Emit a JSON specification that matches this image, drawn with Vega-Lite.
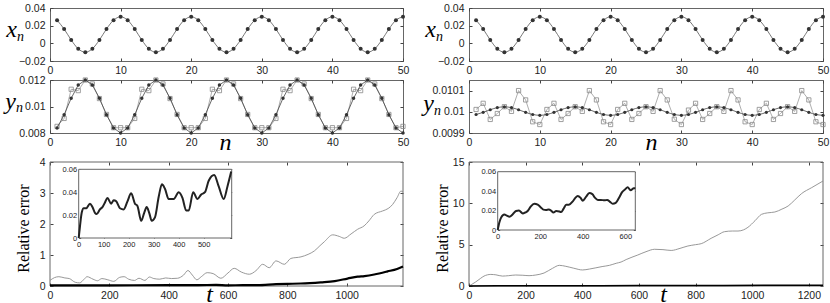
{
"$schema": "https://vega.github.io/schema/vega-lite/v6.json",
"padding": {"left": 4, "top": 2, "right": 0, "bottom": 0},
"bounds": "flush",
"align": "each",
"columns": 2,
"spacing": {"row": 19, "column": 66},
"datasets": {
"xs": [
{"n":1,"v":0.0262},{"n":2,"v":0.0162},{"n":3,"v":0.0038},{"n":4,"v":-0.0062},{"n":5,"v":-0.01},{"n":6,"v":-0.0062},{"n":7,"v":0.0038},{"n":8,"v":0.0162},{"n":9,"v":0.0262},{"n":10,"v":0.03},
{"n":11,"v":0.0262},{"n":12,"v":0.0162},{"n":13,"v":0.0038},{"n":14,"v":-0.0062},{"n":15,"v":-0.01},{"n":16,"v":-0.0062},{"n":17,"v":0.0038},{"n":18,"v":0.0162},{"n":19,"v":0.0262},{"n":20,"v":0.03},
{"n":21,"v":0.0262},{"n":22,"v":0.0162},{"n":23,"v":0.0038},{"n":24,"v":-0.0062},{"n":25,"v":-0.01},{"n":26,"v":-0.0062},{"n":27,"v":0.0038},{"n":28,"v":0.0162},{"n":29,"v":0.0262},{"n":30,"v":0.03},
{"n":31,"v":0.0262},{"n":32,"v":0.0162},{"n":33,"v":0.0038},{"n":34,"v":-0.0062},{"n":35,"v":-0.01},{"n":36,"v":-0.0062},{"n":37,"v":0.0038},{"n":38,"v":0.0162},{"n":39,"v":0.0262},{"n":40,"v":0.03},
{"n":41,"v":0.0262},{"n":42,"v":0.0162},{"n":43,"v":0.0038},{"n":44,"v":-0.0062},{"n":45,"v":-0.01},{"n":46,"v":-0.0062},{"n":47,"v":0.0038},{"n":48,"v":0.0162},{"n":49,"v":0.0262},{"n":50,"v":0.03}
],
"yl": [
{"n":1,"d":0.00838,"s":0.0085},{"n":2,"d":0.00938,"s":0.0091},{"n":3,"d":0.01062,"s":0.0113},{"n":4,"d":0.01162,"s":0.0112},{"n":5,"d":0.012,"s":0.012},{"n":6,"d":0.01162,"s":0.0117},{"n":7,"d":0.01062,"s":0.0106},{"n":8,"d":0.00938,"s":0.0094},{"n":9,"d":0.00838,"s":0.0084},{"n":10,"d":0.008,"s":0.0084},
{"n":11,"d":0.00838,"s":0.0084},{"n":12,"d":0.00938,"s":0.0091},{"n":13,"d":0.01062,"s":0.0113},{"n":14,"d":0.01162,"s":0.0112},{"n":15,"d":0.012,"s":0.012},{"n":16,"d":0.01162,"s":0.0117},{"n":17,"d":0.01062,"s":0.0106},{"n":18,"d":0.00938,"s":0.0094},{"n":19,"d":0.00838,"s":0.0084},{"n":20,"d":0.008,"s":0.0084},
{"n":21,"d":0.00838,"s":0.0084},{"n":22,"d":0.00938,"s":0.0091},{"n":23,"d":0.01062,"s":0.0113},{"n":24,"d":0.01162,"s":0.0112},{"n":25,"d":0.012,"s":0.012},{"n":26,"d":0.01162,"s":0.0117},{"n":27,"d":0.01062,"s":0.0106},{"n":28,"d":0.00938,"s":0.0094},{"n":29,"d":0.00838,"s":0.0084},{"n":30,"d":0.008,"s":0.0084},
{"n":31,"d":0.00838,"s":0.0084},{"n":32,"d":0.00938,"s":0.0091},{"n":33,"d":0.01062,"s":0.0113},{"n":34,"d":0.01162,"s":0.0112},{"n":35,"d":0.012,"s":0.012},{"n":36,"d":0.01162,"s":0.0117},{"n":37,"d":0.01062,"s":0.0106},{"n":38,"d":0.00938,"s":0.0094},{"n":39,"d":0.00838,"s":0.0084},{"n":40,"d":0.008,"s":0.0084},
{"n":41,"d":0.00838,"s":0.0084},{"n":42,"d":0.00938,"s":0.0091},{"n":43,"d":0.01062,"s":0.0113},{"n":44,"d":0.01162,"s":0.0112},{"n":45,"d":0.012,"s":0.012},{"n":46,"d":0.01162,"s":0.0117},{"n":47,"d":0.01062,"s":0.0106},{"n":48,"d":0.00938,"s":0.0094},{"n":49,"d":0.00838,"s":0.0084},{"n":50,"d":0.008,"s":0.0085}
],
"yr": [
{"n":1,"d":0.0099873,"s":0.010011},{"n":2,"d":0.0099973,"s":0.01004},{"n":3,"d":0.0100097,"s":0.009964},{"n":4,"d":0.0100197,"s":0.009992},{"n":5,"d":0.0100235,"s":0.010024},{"n":6,"d":0.0100197,"s":0.010002},{"n":7,"d":0.0100097,"s":0.0101},{"n":8,"d":0.0099973,"s":0.010056},{"n":9,"d":0.0099873,"s":0.009953},{"n":10,"d":0.0099835,"s":0.00994},
{"n":11,"d":0.0099873,"s":0.010011},{"n":12,"d":0.0099973,"s":0.01004},{"n":13,"d":0.0100097,"s":0.009964},{"n":14,"d":0.0100197,"s":0.009992},{"n":15,"d":0.0100235,"s":0.010024},{"n":16,"d":0.0100197,"s":0.010002},{"n":17,"d":0.0100097,"s":0.0101},{"n":18,"d":0.0099973,"s":0.010056},{"n":19,"d":0.0099873,"s":0.009953},{"n":20,"d":0.0099835,"s":0.00994},
{"n":21,"d":0.0099873,"s":0.010011},{"n":22,"d":0.0099973,"s":0.01004},{"n":23,"d":0.0100097,"s":0.009964},{"n":24,"d":0.0100197,"s":0.009992},{"n":25,"d":0.0100235,"s":0.010024},{"n":26,"d":0.0100197,"s":0.010002},{"n":27,"d":0.0100097,"s":0.0101},{"n":28,"d":0.0099973,"s":0.010056},{"n":29,"d":0.0099873,"s":0.009965},{"n":30,"d":0.0099835,"s":0.00994},
{"n":31,"d":0.0099873,"s":0.010008},{"n":32,"d":0.0099973,"s":0.01004},{"n":33,"d":0.0100097,"s":0.009964},{"n":34,"d":0.0100197,"s":0.009992},{"n":35,"d":0.0100235,"s":0.010024},{"n":36,"d":0.0100197,"s":0.010002},{"n":37,"d":0.0100097,"s":0.0101},{"n":38,"d":0.0099973,"s":0.010056},{"n":39,"d":0.0099873,"s":0.009953},{"n":40,"d":0.0099835,"s":0.00994},
{"n":41,"d":0.0099873,"s":0.010011},{"n":42,"d":0.0099973,"s":0.01004},{"n":43,"d":0.0100097,"s":0.009964},{"n":44,"d":0.0100197,"s":0.009992},{"n":45,"d":0.0100235,"s":0.010024},{"n":46,"d":0.0100197,"s":0.010002},{"n":47,"d":0.0100097,"s":0.0101},{"n":48,"d":0.0099973,"s":0.010056},{"n":49,"d":0.0099873,"s":0.009953},{"n":50,"d":0.0099835,"s":0.00994}
],
"gl": [
{"t":0,"v":0.18},{"t":15,"v":0.27},{"t":30,"v":0.3},{"t":50,"v":0.26},{"t":65,"v":0.24},{"t":85,"v":0.12},{"t":100,"v":0.1},{"t":115,"v":0.22},{"t":125,"v":0.3},{"t":145,"v":0.22},{"t":160,"v":0.17},{"t":175,"v":0.24},{"t":195,"v":0.2},{"t":215,"v":0.15},{"t":235,"v":0.28},{"t":250,"v":0.3},{"t":265,"v":0.22},{"t":285,"v":0.18},{"t":300,"v":0.25},{"t":320,"v":0.18},{"t":335,"v":0.29},{"t":350,"v":0.24},{"t":370,"v":0.22},{"t":390,"v":0.26},{"t":410,"v":0.24},{"t":430,"v":0.25},{"t":450,"v":0.35},{"t":465,"v":0.5},{"t":480,"v":0.35},{"t":495,"v":0.2},{"t":510,"v":0.3},{"t":530,"v":0.43},{"t":550,"v":0.4},{"t":576,"v":0.25},{"t":600,"v":0.42},{"t":621,"v":0.57},{"t":645,"v":0.45},{"t":672,"v":0.38},{"t":695,"v":0.5},{"t":717,"v":0.7},{"t":739,"v":0.59},{"t":762,"v":0.81},{"t":790,"v":0.7},{"t":812,"v":0.89},{"t":846,"v":0.94},{"t":870,"v":1.02},{"t":891,"v":1.13},{"t":910,"v":1.3},{"t":925,"v":1.43},{"t":953,"v":1.65},{"t":975,"v":1.6},{"t":992,"v":1.54},{"t":1015,"v":1.68},{"t":1037,"v":1.83},{"t":1059,"v":1.94},{"t":1075,"v":2.1},{"t":1093,"v":2.31},{"t":1121,"v":2.42},{"t":1140,"v":2.5},{"t":1155,"v":2.63},{"t":1170,"v":2.85},{"t":1183,"v":3.06},{"t":1190,"v":3.05}
],
"bl": [
{"t":0,"v":0.02},{"t":200,"v":0.02},{"t":400,"v":0.03},{"t":500,"v":0.03},{"t":560,"v":0.035},{"t":600,"v":0.02},{"t":650,"v":0.03},{"t":700,"v":0.03},{"t":762,"v":0.06},{"t":800,"v":0.07},{"t":846,"v":0.08},{"t":913,"v":0.12},{"t":960,"v":0.16},{"t":1003,"v":0.24},{"t":1037,"v":0.3},{"t":1060,"v":0.32},{"t":1093,"v":0.37},{"t":1138,"v":0.47},{"t":1170,"v":0.55},{"t":1190,"v":0.63}
],
"il": [
{"t":0,"v":0},{"t":5,"v":0.01},{"t":12,"v":0.022},{"t":20,"v":0.026},{"t":30,"v":0.026},{"t":45,"v":0.03},{"t":55,"v":0.027},{"t":65,"v":0.022},{"t":72,"v":0.021},{"t":85,"v":0.025},{"t":95,"v":0.027},{"t":105,"v":0.031},{"t":115,"v":0.035},{"t":130,"v":0.03},{"t":140,"v":0.033},{"t":150,"v":0.032},{"t":165,"v":0.026},{"t":180,"v":0.025},{"t":195,"v":0.032},{"t":210,"v":0.039},{"t":225,"v":0.03},{"t":235,"v":0.028},{"t":250,"v":0.015},{"t":262,"v":0.022},{"t":272,"v":0.027},{"t":282,"v":0.022},{"t":292,"v":0.015},{"t":305,"v":0.018},{"t":320,"v":0.036},{"t":333,"v":0.047},{"t":345,"v":0.043},{"t":360,"v":0.034},{"t":380,"v":0.034},{"t":400,"v":0.04},{"t":415,"v":0.035},{"t":430,"v":0.024},{"t":440,"v":0.024},{"t":458,"v":0.04},{"t":475,"v":0.034},{"t":490,"v":0.038},{"t":505,"v":0.04},{"t":520,"v":0.05},{"t":542,"v":0.055},{"t":560,"v":0.045},{"t":580,"v":0.034},{"t":595,"v":0.045},{"t":610,"v":0.058}
],
"gr": [
{"t":0,"v":0},{"t":10,"v":0.2},{"t":24,"v":0.5},{"t":40,"v":0.9},{"t":53,"v":1.2},{"t":77,"v":1.4},{"t":95,"v":1.35},{"t":118,"v":1.2},{"t":140,"v":1.25},{"t":165,"v":1.33},{"t":190,"v":1.3},{"t":212,"v":1.25},{"t":236,"v":1.33},{"t":265,"v":1.57},{"t":295,"v":2.14},{"t":319,"v":2.5},{"t":342,"v":2.38},{"t":370,"v":2.15},{"t":401,"v":1.94},{"t":425,"v":2.05},{"t":448,"v":2.2},{"t":470,"v":2.35},{"t":496,"v":2.5},{"t":520,"v":2.75},{"t":537,"v":2.9},{"t":555,"v":3.2},{"t":596,"v":3.75},{"t":625,"v":4.15},{"t":655,"v":4.44},{"t":685,"v":4.4},{"t":714,"v":4.3},{"t":745,"v":4.55},{"t":773,"v":4.84},{"t":800,"v":5.0},{"t":820,"v":5.12},{"t":855,"v":5.77},{"t":880,"v":6.2},{"t":902,"v":6.57},{"t":930,"v":6.65},{"t":950,"v":6.65},{"t":970,"v":6.8},{"t":985,"v":7.1},{"t":1010,"v":7.9},{"t":1033,"v":8.67},{"t":1055,"v":8.85},{"t":1080,"v":8.95},{"t":1105,"v":9.3},{"t":1127,"v":9.68},{"t":1150,"v":10.4},{"t":1174,"v":11.17},{"t":1210,"v":11.9},{"t":1250,"v":12.7}
],
"br": [
{"t":0,"v":0},{"t":100,"v":0.03},{"t":300,"v":0.04},{"t":600,"v":0.05},{"t":900,"v":0.07},{"t":1250,"v":0.1}
],
"ir": [
{"t":0,"v":0},{"t":8,"v":0.008},{"t":16,"v":0.0127},{"t":31,"v":0.016},{"t":45,"v":0.0145},{"t":55,"v":0.0137},{"t":70,"v":0.016},{"t":86,"v":0.0195},{"t":100,"v":0.02},{"t":118,"v":0.017},{"t":130,"v":0.018},{"t":141,"v":0.0195},{"t":155,"v":0.024},{"t":172,"v":0.027},{"t":188,"v":0.026},{"t":204,"v":0.023},{"t":215,"v":0.021},{"t":227,"v":0.0206},{"t":240,"v":0.021},{"t":251,"v":0.02},{"t":262,"v":0.018},{"t":275,"v":0.0195},{"t":290,"v":0.019},{"t":298,"v":0.0185},{"t":310,"v":0.022},{"t":322,"v":0.026},{"t":335,"v":0.026},{"t":353,"v":0.0295},{"t":365,"v":0.033},{"t":376,"v":0.035},{"t":390,"v":0.033},{"t":400,"v":0.03},{"t":415,"v":0.034},{"t":431,"v":0.038},{"t":445,"v":0.037},{"t":458,"v":0.033},{"t":471,"v":0.031},{"t":485,"v":0.031},{"t":502,"v":0.0305},{"t":515,"v":0.031},{"t":528,"v":0.029},{"t":541,"v":0.027},{"t":555,"v":0.028},{"t":570,"v":0.033},{"t":585,"v":0.039},{"t":600,"v":0.042},{"t":611,"v":0.044},{"t":625,"v":0.041},{"t":640,"v":0.043},{"t":647,"v":0.043}
]
},
"concat": [
{
"width": 353, "height": 53,
"data": {"name": "xs"},
"resolve": {"axis": {"x": "independent", "y": "independent"}},
"layer": [
{"mark": {"type": "line", "color": "#555", "strokeWidth": 0.8, "interpolate": "monotone"},
 "encoding": {
  "x": {"field": "n", "type": "quantitative", "scale": {"domain": [0, 50], "nice": false}, "axis": {"orient": "bottom", "values": [0,10,20,30,40,50], "format": "d", "title": null}},
  "y": {"field": "v", "type": "quantitative", "scale": {"domain": [-0.02, 0.04], "nice": false, "zero": false}, "axis": {"orient": "left", "values": [-0.02,0,0.02,0.04], "format": "~g", "title": "x", "titleAngle": 0, "titleX": -39, "titleY": 28}}
 }},
{"mark": {"type": "point", "filled": true, "color": "#333", "size": 16, "opacity": 1},
 "encoding": {
  "x": {"field": "n", "type": "quantitative", "axis": {"orient": "top", "values": [0,10,20,30,40,50], "labels": false, "title": "n", "titleAngle": 0, "titleFontSize": 14, "titleX": -30, "titleY": 32}},
  "y": {"field": "v", "type": "quantitative", "axis": {"orient": "right", "values": [-0.02,0,0.02,0.04], "labels": false, "title": null}}
 }}
]
},
{
"width": 354, "height": 53,
"data": {"name": "xs"},
"resolve": {"axis": {"x": "independent", "y": "independent"}},
"layer": [
{"mark": {"type": "line", "color": "#555", "strokeWidth": 0.8, "interpolate": "monotone"},
 "encoding": {
  "x": {"field": "n", "type": "quantitative", "scale": {"domain": [0, 50], "nice": false}, "axis": {"orient": "bottom", "values": [0,10,20,30,40,50], "format": "d", "title": null}},
  "y": {"field": "v", "type": "quantitative", "scale": {"domain": [-0.02, 0.04], "nice": false, "zero": false}, "axis": {"orient": "left", "values": [-0.02,0,0.02,0.04], "format": "~g", "title": "x", "titleAngle": 0, "titleX": -39, "titleY": 28}}
 }},
{"mark": {"type": "point", "filled": true, "color": "#333", "size": 16, "opacity": 1},
 "encoding": {
  "x": {"field": "n", "type": "quantitative", "axis": {"orient": "top", "values": [0,10,20,30,40,50], "labels": false, "title": "n", "titleAngle": 0, "titleFontSize": 14, "titleX": -30, "titleY": 32}},
  "y": {"field": "v", "type": "quantitative", "axis": {"orient": "right", "values": [-0.02,0,0.02,0.04], "labels": false, "title": null}}
 }}
]
},
{
"width": 353, "height": 53,
"data": {"name": "yl"},
"resolve": {"axis": {"x": "independent", "y": "independent"}},
"layer": [
{"mark": {"type": "line", "color": "#999", "strokeWidth": 0.8},
 "encoding": {
  "x": {"field": "n", "type": "quantitative", "scale": {"domain": [0, 50], "nice": false}, "axis": {"orient": "bottom", "values": [0,10,20,30,40,50], "format": "d", "title": "n", "titleAngle": 0, "titleFontSize": 24, "titleX": 175, "titleY": 16}},
  "y": {"field": "s", "type": "quantitative", "scale": {"domain": [0.008, 0.012], "nice": false, "zero": false}, "axis": {"orient": "left", "values": [0.008,0.01,0.012], "format": "~g", "title": "y", "titleAngle": 0, "titleX": -40, "titleY": 28}}
 }},
{"mark": {"type": "point", "shape": "square", "filled": false, "color": "#888", "size": 18, "strokeWidth": 0.8, "opacity": 1},
 "encoding": {
  "x": {"field": "n", "type": "quantitative", "axis": {"orient": "top", "values": [0,10,20,30,40,50], "labels": false, "title": "n", "titleAngle": 0, "titleFontSize": 14, "titleX": -31, "titleY": 31}},
  "y": {"field": "s", "type": "quantitative", "axis": {"orient": "right", "values": [0.008,0.01,0.012], "labels": false, "title": null}}
 }},
{"mark": {"type": "line", "color": "#444", "strokeWidth": 0.8},
 "encoding": {
  "x": {"field": "n", "type": "quantitative", "axis": null},
  "y": {"field": "d", "type": "quantitative", "axis": null}
 }},
{"mark": {"type": "point", "filled": true, "color": "#333", "size": 12, "opacity": 1},
 "encoding": {
  "x": {"field": "n", "type": "quantitative", "axis": null},
  "y": {"field": "d", "type": "quantitative", "axis": null}
 }}
]
},
{
"width": 354, "height": 53,
"data": {"name": "yr"},
"resolve": {"axis": {"x": "independent", "y": "independent"}},
"layer": [
{"mark": {"type": "line", "color": "#999", "strokeWidth": 0.8},
 "encoding": {
  "x": {"field": "n", "type": "quantitative", "scale": {"domain": [0, 50], "nice": false}, "axis": {"orient": "bottom", "values": [0,10,20,30,40,50], "format": "d", "title": "n", "titleAngle": 0, "titleFontSize": 24, "titleX": 182, "titleY": 16}},
  "y": {"field": "s", "type": "quantitative", "scale": {"domain": [0.0099, 0.01015], "nice": false, "zero": false}, "axis": {"orient": "left", "values": [0.0099,0.01,0.0101], "format": "~g", "title": "y", "titleAngle": 0, "titleX": -41, "titleY": 30}}
 }},
{"mark": {"type": "point", "shape": "square", "filled": false, "color": "#888", "size": 18, "strokeWidth": 0.8, "opacity": 1},
 "encoding": {
  "x": {"field": "n", "type": "quantitative", "axis": {"orient": "top", "values": [0,10,20,30,40,50], "labels": false, "title": "n", "titleAngle": 0, "titleFontSize": 14, "titleX": -32, "titleY": 34}},
  "y": {"field": "s", "type": "quantitative", "axis": {"orient": "right", "values": [0.0099,0.01,0.0101], "labels": false, "title": null}}
 }},
{"mark": {"type": "line", "color": "#444", "strokeWidth": 0.8, "interpolate": "monotone"},
 "encoding": {
  "x": {"field": "n", "type": "quantitative", "axis": null},
  "y": {"field": "d", "type": "quantitative", "axis": null}
 }},
{"mark": {"type": "point", "filled": true, "color": "#333", "size": 10, "opacity": 1},
 "encoding": {
  "x": {"field": "n", "type": "quantitative", "axis": null},
  "y": {"field": "d", "type": "quantitative", "axis": null}
 }}
]
},
{
"width": 353, "height": 134,
"view": {"stroke": null},
"resolve": {"scale": {"x": "independent", "y": "independent"}, "axis": {"x": "independent", "y": "independent"}},
"layer": [
{
"resolve": {"axis": {"x": "independent", "y": "independent"}},
"layer": [
{"data": {"values": [{"a": 0, "b": 1190, "c": 0, "d": 4}]},
 "mark": {"type": "rect", "fillOpacity": 0, "stroke": "#666", "strokeWidth": 1},
 "encoding": {
  "x": {"field": "a", "type": "quantitative", "scale": {"domain": [0, 1190], "nice": false}, "axis": {"orient": "bottom", "values": [0,200,400,600,800,1000], "format": "d", "title": "t", "titleAngle": 0, "titleX": 159, "titleY": 15}},
  "x2": {"field": "b"},
  "y": {"field": "c", "type": "quantitative", "scale": {"domain": [0, 4], "nice": false, "range": [134, 10]}, "axis": {"orient": "left", "values": [0,1,2,3,4], "format": "d", "title": "Relative error", "titleFontStyle": "normal", "titleFontSize": 16, "titleAngle": -90, "titleBaseline": "middle", "titleX": -27, "titleY": 76}},
  "y2": {"field": "d"}
 }},
{"data": {"name": "gl"},
 "mark": {"type": "line", "color": "#8c8c8c", "strokeWidth": 0.9, "interpolate": "monotone"},
 "encoding": {
  "x": {"field": "t", "type": "quantitative", "axis": {"orient": "top", "offset": -10, "values": [0,200,400,600,800,1000], "labels": false, "title": null}},
  "y": {"field": "v", "type": "quantitative", "axis": {"orient": "right", "values": [0,1,2,3,4], "labels": false, "title": null}}
 }},
{"data": {"name": "bl"},
 "mark": {"type": "line", "color": "#000", "strokeWidth": 2.2, "interpolate": "monotone"},
 "encoding": {
  "x": {"field": "t", "type": "quantitative", "axis": null},
  "y": {"field": "v", "type": "quantitative", "axis": null}
 }}
]
},
{
"resolve": {"axis": {"x": "independent", "y": "independent"}},
"layer": [
{"data": {"values": [{"a": 0, "b": 612, "c": 0, "d": 0.06}]},
 "mark": {"type": "rect", "fill": "white", "stroke": "#666", "strokeWidth": 1},
 "encoding": {
  "x": {"field": "a", "type": "quantitative", "scale": {"domain": [0, 612], "nice": false, "range": [28.7, 181.7]}, "axis": {"orient": "bottom", "offset": -48, "values": [0,100,200,300,400,500], "format": "d", "labelFontSize": 7.5, "tickSize": -2, "labelPadding": 4, "title": null}},
  "x2": {"field": "b"},
  "y": {"field": "c", "type": "quantitative", "scale": {"domain": [0, 0.06], "nice": false, "range": [86, 17.3]}, "axis": {"orient": "left", "offset": -28.7, "values": [0,0.02,0.04,0.06], "format": "~g", "labelFontSize": 7.5, "tickSize": -2, "labelPadding": 4, "title": null}},
  "y2": {"field": "d"}
 }},
{"data": {"name": "il"},
 "mark": {"type": "line", "color": "#222", "strokeWidth": 2, "interpolate": "monotone"},
 "encoding": {
  "x": {"field": "t", "type": "quantitative", "axis": {"orient": "top", "offset": -17.3, "values": [0,100,200,300,400,500], "labels": false, "tickSize": -2, "title": null}},
  "y": {"field": "v", "type": "quantitative", "axis": {"orient": "right", "offset": -171.3, "values": [0,0.02,0.04,0.06], "labels": false, "tickSize": -2, "title": null}}
 }}
]
}
]
},
{
"width": 354, "height": 134,
"view": {"stroke": null},
"resolve": {"scale": {"x": "independent", "y": "independent"}, "axis": {"x": "independent", "y": "independent"}},
"layer": [
{
"resolve": {"axis": {"x": "independent", "y": "independent"}},
"layer": [
{"data": {"values": [{"a": 0, "b": 1250, "c": 0, "d": 15}]},
 "mark": {"type": "rect", "fillOpacity": 0, "stroke": "#666", "strokeWidth": 1},
 "encoding": {
  "x": {"field": "a", "type": "quantitative", "scale": {"domain": [0, 1250], "nice": false}, "axis": {"orient": "bottom", "values": [0,200,400,600,800,1000,1200], "format": "d", "title": "t", "titleAngle": 0, "titleX": 194, "titleY": 15}},
  "x2": {"field": "b"},
  "y": {"field": "c", "type": "quantitative", "scale": {"domain": [0, 15], "nice": false, "range": [134, 10]}, "axis": {"orient": "left", "values": [0,5,10,15], "format": "d", "title": "Relative error", "titleFontStyle": "normal", "titleFontSize": 16, "titleAngle": -90, "titleBaseline": "middle", "titleX": -27, "titleY": 76}},
  "y2": {"field": "d"}
 }},
{"data": {"name": "gr"},
 "mark": {"type": "line", "color": "#8c8c8c", "strokeWidth": 0.9, "interpolate": "monotone"},
 "encoding": {
  "x": {"field": "t", "type": "quantitative", "axis": {"orient": "top", "offset": -10, "values": [0,200,400,600,800,1000,1200], "labels": false, "title": null}},
  "y": {"field": "v", "type": "quantitative", "axis": {"orient": "right", "values": [0,5,10,15], "labels": false, "title": null}}
 }},
{"data": {"name": "br"},
 "mark": {"type": "line", "color": "#000", "strokeWidth": 1.5, "interpolate": "monotone"},
 "encoding": {
  "x": {"field": "t", "type": "quantitative", "axis": null},
  "y": {"field": "v", "type": "quantitative", "axis": null}
 }}
]
},
{
"resolve": {"axis": {"x": "independent", "y": "independent"}},
"layer": [
{"data": {"values": [{"a": 0, "b": 647, "c": 0, "d": 0.06}]},
 "mark": {"type": "rect", "fill": "white", "stroke": "#666", "strokeWidth": 1},
 "encoding": {
  "x": {"field": "a", "type": "quantitative", "scale": {"domain": [0, 647], "nice": false, "range": [28.7, 166.3]}, "axis": {"orient": "bottom", "offset": -56, "values": [0,200,400,600], "format": "d", "labelFontSize": 7.5, "tickSize": -2, "labelPadding": 4, "title": null}},
  "x2": {"field": "b"},
  "y": {"field": "c", "type": "quantitative", "scale": {"domain": [0, 0.06], "nice": false, "range": [78, 19.7]}, "axis": {"orient": "left", "offset": -28.7, "values": [0,0.02,0.04,0.06], "format": "~g", "labelFontSize": 7.5, "tickSize": -2, "labelPadding": 4, "title": null}},
  "y2": {"field": "d"}
 }},
{"data": {"name": "ir"},
 "mark": {"type": "line", "color": "#222", "strokeWidth": 2, "interpolate": "monotone"},
 "encoding": {
  "x": {"field": "t", "type": "quantitative", "axis": {"orient": "top", "offset": -19.7, "values": [0,200,400,600], "labels": false, "tickSize": -2, "title": null}},
  "y": {"field": "v", "type": "quantitative", "axis": {"orient": "right", "offset": -187.7, "values": [0,0.02,0.04,0.06], "labels": false, "tickSize": -2, "title": null}}
 }}
]
}
]
}
],
"config": {
 "background": "white",
 "view": {"stroke": "#666", "strokeWidth": 1},
 "axis": {"grid": false, "domain": false, "tickSize": -3, "tickColor": "#444", "labelFont": "Liberation Sans", "labelFontSize": 10.5, "labelColor": "#222", "labelPadding": 7, "labelFlush": false, "labelOverlap": false, "titleFont": "Liberation Serif", "titleFontStyle": "italic", "titleFontWeight": "normal", "titleColor": "#000", "titleFontSize": 24, "titleAlign": "center", "titleBaseline": "alphabetic"},
 "axisY": {"labelPadding": 8}
}
}
